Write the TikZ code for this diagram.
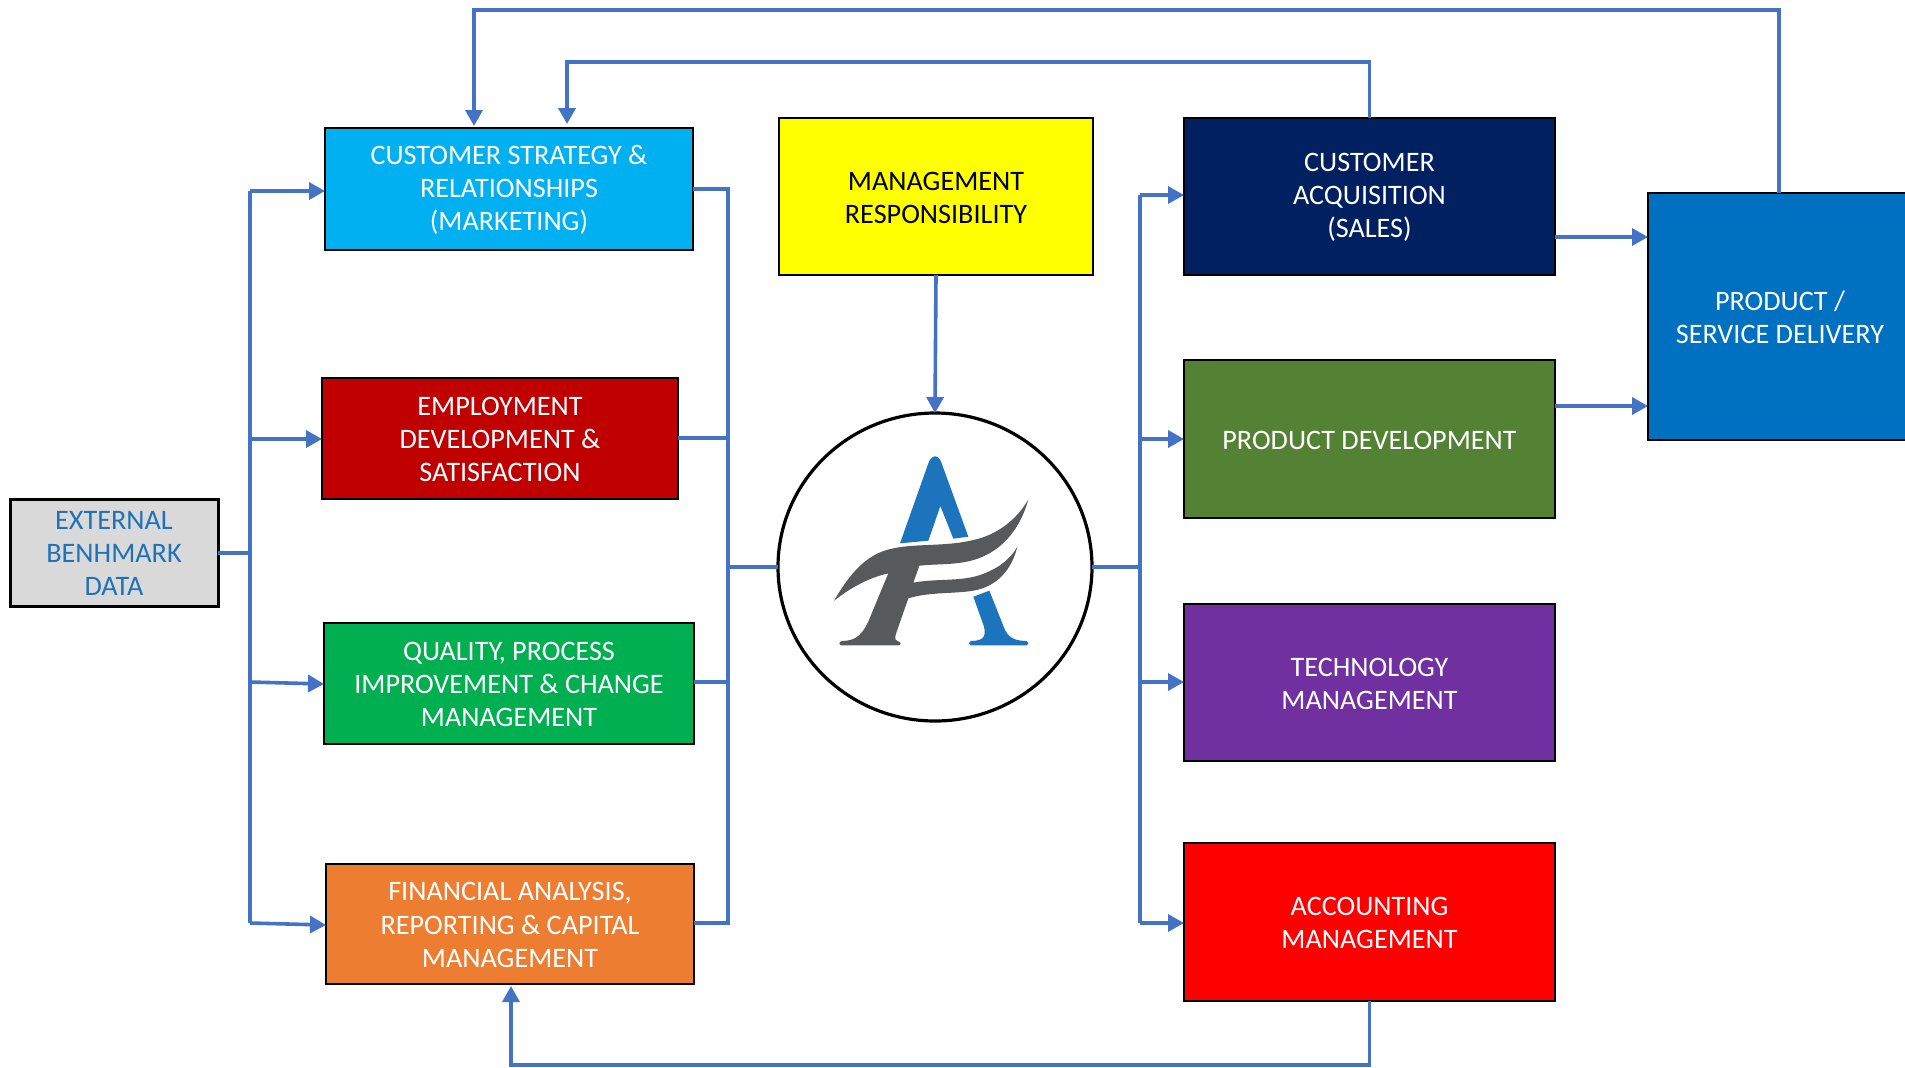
\documentclass[tikz,border=0pt]{standalone}
\usepackage{fontspec}
\setmainfont{Carlito}
\usetikzlibrary{arrows.meta,shapes.geometric}
\definecolor{conn}{HTML}{4472C4}
\definecolor{logoblue}{HTML}{1C75BC}
\definecolor{logogray}{HTML}{58595B}
\tikzset{
  box/.style={draw=black,line width=1.3pt,inner sep=0pt,outer sep=0pt,align=center,text=white,
    font=\fontsize{14.1}{16.6}\selectfont},
  line/.style={draw=conn,line width=1.8pt},
  arrow/.style={line,-{Triangle[length=8pt,width=8.5pt]}}
}
\newcommand{\boxnode}[8][]{%
  \pgfmathsetmacro{\bxw}{(#4-#2)*0.5}%
  \pgfmathsetmacro{\bxh}{(#5-#3)*0.5}%
  \pgfmathsetmacro{\bxx}{(#4+#2)*0.5}%
  \pgfmathsetmacro{\bxy}{(#5+#3)*0.5}%
  \node[box,fill=#6,minimum width=\bxw pt,minimum height=\bxh pt,#1] (#7) at (\bxx,\bxy) {\rule{0pt}{10.2pt}#8};}
\begin{document}
\begin{tikzpicture}[x=0.5pt,y=-0.5pt]
\useasboundingbox (0,0) rectangle (1905,1067);
\clip (0,0) rectangle (1905,1067);
\fill[white] (0,0) rectangle (1905,1067);

% nodes
\definecolor{cA}{HTML}{00B0F0}\definecolor{cB}{HTML}{C00000}\definecolor{cC}{HTML}{00B050}
\definecolor{cD}{HTML}{ED7D31}\definecolor{cE}{HTML}{FFFF00}\definecolor{cF}{HTML}{002060}
\definecolor{cG}{HTML}{548235}\definecolor{cH}{HTML}{7030A0}\definecolor{cI}{HTML}{FF0000}
\definecolor{cJ}{HTML}{0070C0}\definecolor{cK}{HTML}{D9D9D9}\definecolor{cL}{HTML}{1F72B8}

\boxnode{325}{128}{693}{250}{cA}{cs}{CUSTOMER STRATEGY \&\\RELATIONSHIPS\\(MARKETING)}
\boxnode{322}{378}{678}{499}{cB}{em}{EMPLOYMENT\\DEVELOPMENT \&\\SATISFACTION}
\boxnode{324}{623}{694}{744}{cC}{qu}{QUALITY, PROCESS\\IMPROVEMENT \& CHANGE\\MANAGEMENT}
\boxnode{326}{864}{694}{984}{cD}{fi}{FINANCIAL ANALYSIS,\\REPORTING \& CAPITAL\\MANAGEMENT}
\boxnode[line width=1.5pt,text=cL]{10}{499}{218}{606}{cK}{ex}{EXTERNAL\\BENHMARK\\DATA}
\boxnode[text=black]{779}{118}{1093}{275}{cE}{mg}{MANAGEMENT\\RESPONSIBILITY}
\boxnode{1184}{118}{1555}{275}{cF}{ca}{CUSTOMER\\ACQUISITION\\(SALES)}
\boxnode{1184}{360}{1555}{518}{cG}{pd}{PRODUCT DEVELOPMENT}
\boxnode{1184}{604}{1555}{761}{cH}{te}{TECHNOLOGY\\MANAGEMENT}
\boxnode{1184}{843}{1555}{1001}{cI}{ac}{ACCOUNTING\\MANAGEMENT}
\boxnode{1648}{193}{1912}{440}{cJ}{sd}{PRODUCT /\\SERVICE DELIVERY}
\node[draw=black,line width=1.6pt,ellipse,fill=white,minimum width=157pt,minimum height=154pt,inner sep=0pt,outer sep=0pt] (hub) at (935,567) {};

% logo
\begin{scope}[shift={(760,400)},x=0.16667pt,y=-0.16667pt]
\fill[logoblue] (420,430) -- (505,190) .. controls (515,162) and (535,162) .. (545,190)
  -- (625,410) -- (580,416) -- (541,318) -- (505,422) -- cycle;
\fill[logoblue] (640,590) -- (688,572) -- (735,690) .. controls (750,720) and (775,722) .. (800,723)
  .. controls (807,725) and (807,735) .. (800,736) -- (632,736) .. controls (625,735) and (625,725) .. (632,723)
  .. controls (665,722) and (680,715) .. (672,680) -- cycle;
\fill[logogray] (222,602) .. controls (270,520) and (320,460) .. (400,445)
  .. controls (470,430) and (560,440) .. (640,420)
  .. controls (710,405) and (770,360) .. (805,298)
  .. controls (780,390) and (720,465) .. (620,485)
  .. controls (570,495) and (520,492) .. (478,497)
  -- (460,548)
  .. controls (530,535) and (600,545) .. (660,525)
  .. controls (710,508) and (750,480) .. (772,440)
  .. controls (755,510) and (710,560) .. (640,572)
  .. controls (580,582) and (510,575) .. (445,595)
  -- (410,695) .. controls (400,722) and (410,723) .. (415,724)
  .. controls (424,726) and (424,735) .. (415,736)
  -- (245,736) .. controls (236,735) and (236,725) .. (245,723)
  .. controls (290,722) and (310,705) .. (335,640)
  -- (385,520)
  .. controls (320,535) and (270,565) .. (222,602) -- cycle;
\end{scope}

% bus coordinates
\coordinate (lb0) at (250,553);
\coordinate (lb1) at (250,191);
\coordinate (lb2) at (250,439);
\coordinate (lb3) at (250,682);
\coordinate (lb4) at (250,923);
\coordinate (rb1) at (728,189);
\coordinate (rb2) at (728,438);
\coordinate (rb3) at (728,682);
\coordinate (rb4) at (728,923);
\coordinate (rb0) at (728,567);
\coordinate (tb0) at (1140,567);
\coordinate (tb1) at (1140,195);
\coordinate (tb2) at (1140,439);
\coordinate (tb3) at (1140,682);
\coordinate (tb4) at (1140,923);

% left bus
\draw[line] (ex.east |- lb0) -- (lb0);
\draw[line] (lb1) -- (lb4);
\draw[arrow] (lb1) -- (lb1 -| cs.west);
\draw[arrow] (lb2) -- (lb2 -| em.west);
\draw[arrow] (lb3) -- ([yshift=-1pt]lb3 -| qu.west);
\draw[arrow] (lb4) -- ([yshift=-1pt]lb4 -| fi.west);
% middle bus
\draw[line] (rb1 -| cs.east) -- (rb1) -- (rb4) -- (rb4 -| fi.east);
\draw[line] (rb2 -| em.east) -- (rb2);
\draw[line] (rb3 -| qu.east) -- (rb3);
\draw[line] (rb0) -- (rb0 -| hub.west);
% right bus
\draw[line] (tb0 -| hub.east) -- (tb0);
\draw[line] (tb1) -- (tb4);
\draw[arrow] (tb1) -- (tb1 -| ca.west);
\draw[arrow] (tb2) -- (tb2 -| pd.west);
\draw[arrow] (tb3) -- (tb3 -| te.west);
\draw[arrow] (tb4) -- (tb4 -| ac.west);
% others
\draw[arrow] (mg.south) -- (hub.north);
\coordinate (sa1) at (1555,237);
\coordinate (sa2) at (1555,406);
\draw[arrow] (sa1) -- (sa1 -| sd.west);
\draw[arrow] (sa2) -- (sa2 -| sd.west);
\coordinate (loop1) at (567,62);
\coordinate (loop2) at (474,10);
\coordinate (loop3) at (511,1065);
\draw[arrow] (ca.north) -- (ca.north |- loop1) -- (loop1) -- ([yshift=2pt]loop1 |- cs.north);
\draw[arrow] ([xshift=-0.5pt]sd.north) -- ([xshift=-0.5pt]sd.north |- loop2) -- (loop2) -- ([yshift=1pt]loop2 |- cs.north);
\draw[arrow] (ac.south) -- (ac.south |- loop3) -- (loop3) -- ([yshift=-1pt]loop3 |- fi.south);
\end{tikzpicture}
\end{document}
